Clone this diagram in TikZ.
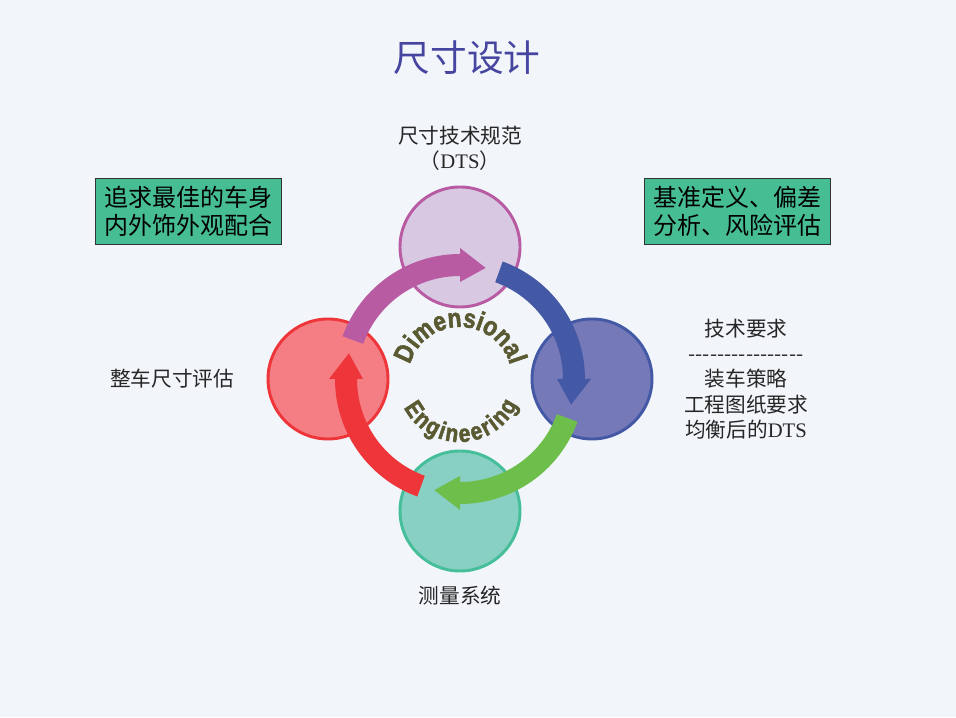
\documentclass[tikz,border=0pt]{standalone}
\usepackage{fontspec}
\setmainfont{Liberation Serif}
\newfontfamily\cjk{Noto Sans CJK SC}
\newfontfamily\wafont{Liberation Sans Bold}[FakeBold=2,FakeStretch=0.85]
\usetikzlibrary{positioning,decorations.text}
\definecolor{bgblue}{HTML}{F2F6FA}
\definecolor{titleblue}{HTML}{4646A0}
\definecolor{boxgreen}{HTML}{47BD94}
\definecolor{dtsfill}{HTML}{D9C8E2}
\definecolor{dtsborder}{HTML}{B85BA3}
\definecolor{reqfill}{HTML}{7579B8}
\definecolor{reqborder}{HTML}{4459A6}
\definecolor{measfill}{HTML}{88D0C3}
\definecolor{measborder}{HTML}{45BE99}
\definecolor{evalfill}{HTML}{F47E84}
\definecolor{evalborder}{HTML}{EE3539}
\definecolor{arrowgreen}{HTML}{6DBE4B}
\definecolor{waolive}{HTML}{5A5A32}
\newcommand\dimword{\wafont\fontsize{20}{20}\selectfont\color{waolive}}
\newcommand\engword{\wafont\fontsize{18.5}{18.5}\selectfont\color{waolive}}

\begin{document}
\begin{tikzpicture}[x=0.75pt,y=0.75pt,on grid,
  ring/.style={circle,line width=2.2pt,minimum size=90pt,inner sep=0pt},
  note/.style={draw=black!80,fill=boxgreen,line width=0.8pt,align=center,
    minimum width=140pt,minimum height=50pt,
    font=\cjk\fontsize{18}{21}\selectfont},
  tag/.style={align=center,text=black!85,font=\cjk\fontsize{15.5}{19}\selectfont}]
  \fill[bgblue] (0,0) rectangle (956,717);
  \node[text=titleblue,font=\cjk\fontsize{27.5}{30}\selectfont] (title) at (467,659) {尺寸设计};
  % the four stages
  \node[ring,draw=dtsborder,fill=dtsfill] (c_dts) at (460,470) {};
  \node[ring,draw=reqborder,fill=reqfill] (c_req) at (592,338) {};
  \node[ring,draw=measborder,fill=measfill] (c_meas) at (460,206) {};
  \node[ring,draw=evalborder,fill=evalfill] (c_eval) at (328,338) {};
  \coordinate (hub) at (460,338);
  % curved arrows between them
  \foreach \col/\a in {dtsborder/160,reqborder/70,arrowgreen/-20,evalborder/-110}{
    \pgfmathsetmacro\headbase{\a-70}
    \pgfmathsetmacro\headend{\a-83}
    \fill[\col,shift={(hub)}] (\a:125) arc[start angle=\a,end angle=\headbase,radius=125]
      -- (\headbase:131) -- (\headend:114) -- (\headbase:97) -- (\headbase:103)
      arc[start angle=\headbase,end angle=\a,radius=103] -- cycle;
  }
  \path[decorate,decoration={text along path,text align=fit to path,text={|\dimword|Dimensional}}]
    (hub) ++(164:52) arc[start angle=164,end angle=18,radius=52];
  \path[decorate,decoration={text along path,text align=fit to path,text={|\engword|Engineering}}]
    (hub) ++(207:63) arc[start angle=207,end angle=336,radius=63];
  % labels
  \node[tag,above=73.9pt of c_dts] (l_dts) {尺寸技术规范\\（{\rmfamily DTS}）};
  \node[tag,left=117pt of c_eval] (l_eval) {整车尺寸评估};
  \node[tag,below=63.75pt of c_meas] (l_meas) {测量系统};
  \node[tag,right=115.5pt of c_req] (l_req) {技术要求\\-{}-{}-{}-{}-{}-{}-{}-{}-{}-{}-{}-{}-{}-{}-{}-\\装车策略\\工程图纸要求\\均衡后的{\rmfamily DTS}};
  \node[note] (goal) at (188.5,505.5) {追求最佳的车身\\内外饰外观配合};
  \node[note] (risk) at (737.5,505.5) {基准定义、偏差\\分析、风险评估};
\end{tikzpicture}
\end{document}
